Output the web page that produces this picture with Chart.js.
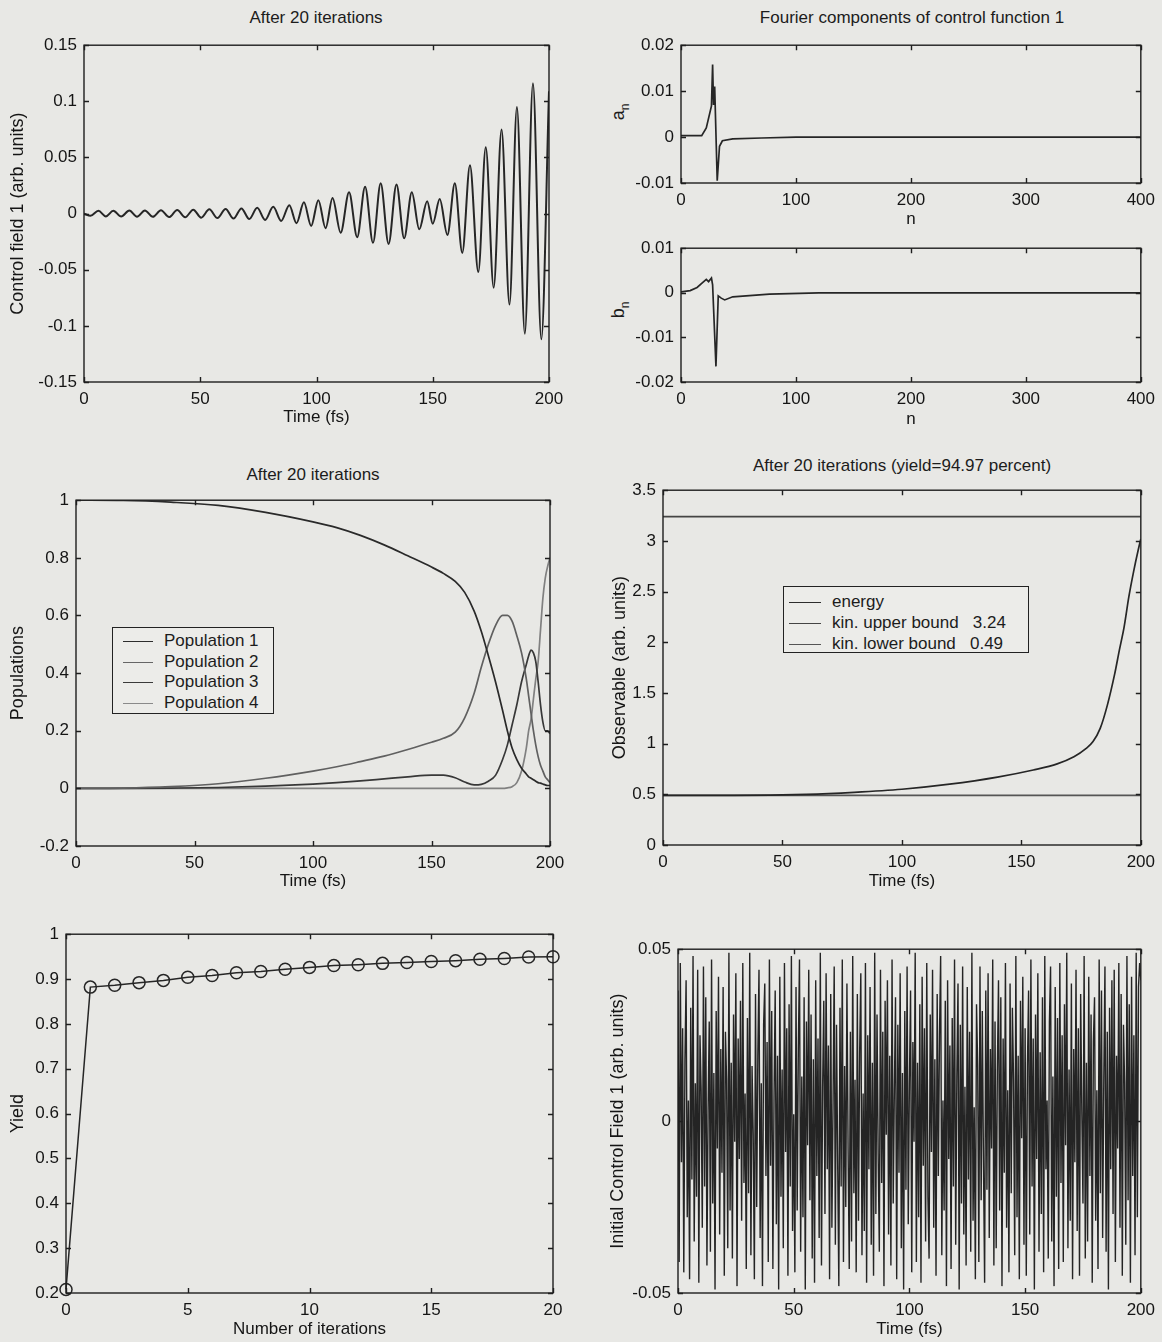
<!DOCTYPE html>
<html>
<head>
<meta charset="utf-8">
<script src="https://cdn.jsdelivr.net/npm/chart.js@4.4.1/dist/chart.umd.min.js"></script>
<style>
  body { margin: 0; background: #e8e8e5; width: 1162px; height: 1342px; position: relative; overflow: hidden;
         font-family: "Liberation Sans", Arial, sans-serif; color: #1c1c1c; }
  canvas { position: absolute; }
  .ttl { position: absolute; font-size: 17px; white-space: nowrap; transform: translate(-50%, -50%); }
  .ylab { position: absolute; font-size: 18px; white-space: nowrap; transform: translate(-50%, -50%) rotate(-90deg); }
  .ylab sub { font-size: 12px; }
  .lg { position: absolute; border: 1.5px solid #222; background: #ecece9; font-size: 17px; }
  .lg div { position: absolute; left: 0; white-space: pre; line-height: 21px; }
  .lg span { display: inline-block; height: 0; border-top: 1.6px solid #2d2d2d; vertical-align: middle; }
  #popLegend span { width: 30px; margin: 0 11px 0 10px; }
  #obsLegend span { width: 32px; margin: 0 11px 0 5px; }
</style>
</head>
<body>

<div class="ttl" style="left:316px;top:18px">After 20 iterations</div>
<div class="ttl" style="left:912px;top:18px">Fourier components of control function 1</div>
<div class="ttl" style="left:313px;top:475px">After 20 iterations</div>
<div class="ttl" style="left:902px;top:466px">After 20 iterations (yield=94.97 percent)</div>
<div class="ylab" style="left:620px;top:112px">a<sub>n</sub></div>
<div class="ylab" style="left:620px;top:310px">b<sub>n</sub></div>

<div class="lg" id="popLegend" style="left:112px;top:627px;width:160px;height:85px">
  <div style="top:2px"><span></span>Population 1</div>
  <div style="top:23px"><span style="border-color:#666"></span>Population 2</div>
  <div style="top:43px"><span style="border-color:#3a3a3a"></span>Population 3</div>
  <div style="top:64px"><span style="border-color:#8a8a8a"></span>Population 4</div>
</div>
<div class="lg" id="obsLegend" style="left:783px;top:586px;width:244px;height:65px">
  <div style="top:4px"><span></span>energy</div>
  <div style="top:25px"><span style="border-color:#444"></span>kin. upper bound   3.24</div>
  <div style="top:46px"><span style="border-color:#555"></span>kin. lower bound   0.49</div>
</div>

<script>
// control field after 20 iterations: extrema
const fieldTime = [0, 2.8, 6.2, 9.4, 12.6, 16.0, 19.5, 22.8, 26.2, 29.6, 33.1, 36.6, 40.1, 43.5, 47.0, 50.4,
  53.9, 57.4, 60.9, 64.3, 67.7, 71.1, 74.5, 77.9, 81.4, 84.8, 88.3, 91.4, 94.6, 97.7, 100.8, 103.9,
  106.9, 110.4, 114.0, 117.5, 120.9, 124.3, 127.6, 131.0, 134.4, 137.7, 141.0, 144.2, 147.6, 150.0,
  153.0, 156.3, 159.5, 162.7, 166.0, 169.6, 172.8, 176.2, 179.6, 183.0, 186.2, 189.6, 193.1, 196.7, 200];
const fieldValue = [0, -0.002, 0.0025, -0.0025, 0.0025, -0.0026, 0.0027, -0.0027, 0.0028, -0.0029, 0.003,
  -0.0031, 0.0032, -0.0033, 0.0035, -0.0036, 0.0038, -0.004, 0.0042, -0.0044, 0.0046, -0.0049, 0.0052,
  -0.0056, 0.006, -0.0065, 0.0075, -0.0085, 0.01, -0.011, 0.012, -0.013, 0.014, -0.017, 0.019, -0.021,
  0.024, -0.026, 0.027, -0.027, 0.026, -0.022, 0.019, -0.014, 0.011, -0.009, 0.013, -0.019, 0.027,
  -0.035, 0.043, -0.052, 0.059, -0.066, 0.075, -0.081, 0.095, -0.107, 0.116, -0.112, 0.109];

// Fourier components
const anN = [0, 18, 22, 26.5, 27.5, 28.3, 29.3, 31.5, 33.5, 36, 45, 70, 100, 400];
const anValue = [0.0003, 0.0003, 0.002, 0.0068, 0.0158, 0.007, 0.011, -0.0095, -0.002, -0.0008, -0.0004, -0.0002, 0, 0];
const bnN = [0, 8, 14, 18, 22, 24, 26.5, 27.5, 30.4, 32.4, 35, 38, 45, 77, 120, 400];
const bnValue = [0.0002, 0.0005, 0.0012, 0.0021, 0.003, 0.0025, 0.0033, 0.0018, -0.0165, -0.0007, -0.0012, -0.0016, -0.0009, -0.0003, 0, 0];

// populations
const popTime = [0, 20, 40, 60, 80, 100, 110, 120, 130, 140, 150, 155, 160, 164, 168, 171, 174, 177, 180,
  182, 184, 186, 188, 190, 191, 192, 193, 194, 195, 196, 197, 198, 199, 200];
const pop1 = [1, 0.999, 0.993, 0.982, 0.958, 0.925, 0.905, 0.878, 0.845, 0.807, 0.768, 0.746, 0.718, 0.68, 0.615,
  0.545, 0.46, 0.37, 0.27, 0.2, 0.14, 0.1, 0.07, 0.05, 0.04, 0.035, 0.03, 0.025, 0.02, 0.018, 0.015, 0.012, 0.01, 0.01];
const pop2 = [0, 0.001, 0.006, 0.016, 0.035, 0.06, 0.075, 0.093, 0.112, 0.135, 0.16, 0.174, 0.195, 0.245, 0.33,
  0.42, 0.5, 0.565, 0.6, 0.6, 0.58, 0.53, 0.47, 0.38, 0.32, 0.26, 0.2, 0.15, 0.11, 0.08, 0.06, 0.04, 0.03, 0.02];
const pop3 = [0, 0, 0.001, 0.003, 0.008, 0.015, 0.02, 0.026, 0.033, 0.04, 0.046, 0.046, 0.037, 0.022, 0.012,
  0.014, 0.025, 0.045, 0.1, 0.15, 0.22, 0.29, 0.37, 0.43, 0.46, 0.48, 0.47, 0.44, 0.37, 0.29, 0.23, 0.2, 0.2, 0.19];
const pop4 = [0, 0, 0, 0, 0, 0, 0, 0, 0, 0, 0, 0, 0, 0, 0, 0, 0, 0, 0, 0.002, 0.006, 0.02, 0.06, 0.14, 0.2,
  0.24, 0.31, 0.38, 0.44, 0.55, 0.66, 0.73, 0.77, 0.8];

// observable
const energyTime = [0, 30, 60, 80, 100, 120, 140, 155, 165, 172, 177, 180, 183, 186, 189, 191, 193, 195, 197, 199, 200];
const energyValue = [0.49, 0.49, 0.5, 0.52, 0.55, 0.6, 0.67, 0.74, 0.8, 0.87, 0.95, 1.02, 1.15, 1.38, 1.68,
  1.92, 2.15, 2.45, 2.7, 2.92, 3.02];
const upperBound = 3.24;
const lowerBound = 0.49;

// yield per iteration
const yieldIter = [0, 1, 2, 3, 4, 5, 6, 7, 8, 9, 10, 11, 12, 13, 14, 15, 16, 17, 18, 19, 20];
const yieldValue = [0.208, 0.882, 0.886, 0.892, 0.897, 0.904, 0.908, 0.914, 0.917, 0.922, 0.926, 0.93,
  0.932, 0.935, 0.937, 0.939, 0.941, 0.944, 0.946, 0.949, 0.9497];

// initial (noisy) control field, sampled every 0.5 fs
const noiseStep = 0.5;
const noiseField = [
  0.038, -0.041, 0.046, -0.012, 0.027, -0.044, 0.018, 0.041, -0.028, 0.006,
  -0.046, 0.033, -0.017, 0.048, -0.035, 0.011, -0.022, 0.044, -0.047, 0.025,
  0.009, -0.031, 0.045, -0.019, 0.036, -0.042, 0.003, 0.029, -0.038, 0.047,
  -0.024, 0.014, -0.049, 0.032, -0.008, 0.042, -0.033, 0.021, -0.015, 0.039,
  -0.045, 0.026, 0.012, -0.037, 0.049, -0.026, 0.017, -0.04, 0.031, -0.006,
  0.043, -0.048, 0.024, -0.011, 0.035, -0.029, 0.046, -0.018, 0.008, -0.043,
  0.03, -0.021, 0.049, -0.039, 0.016, -0.004, -0.046, 0.037, -0.025, 0.019,
  0.044, -0.034, 0.011, -0.048, 0.028, 0.04, -0.016, 0.023, -0.041, 0.047,
  -0.013, 0.032, -0.043, 0.007, 0.038, -0.03, 0.019, -0.049, 0.042, -0.022,
  0.015, -0.037, 0.046, -0.009, 0.027, -0.045, 0.034, -0.019, 0.048, -0.032,
  0.002, -0.044, 0.039, -0.026, 0.021, 0.047, -0.038, 0.013, -0.028, 0.036,
  -0.049, 0.029, -0.007, 0.044, -0.023, 0.031, -0.04, 0.018, -0.047, 0.041,
  -0.016, 0.024, -0.034, 0.049, -0.042, 0.01, 0.035, -0.027, 0.043, -0.014,
  0.022, -0.046, 0.037, -0.031, 0.005, 0.045, -0.036, 0.028, -0.012, -0.048,
  0.033, -0.019, 0.047, -0.041, 0.016, -0.025, 0.04, -0.008, -0.043, 0.026,
  -0.035, 0.048, -0.021, 0.012, -0.044, 0.037, -0.029, 0.02, 0.043, -0.039,
  0.008, -0.032, 0.046, -0.047, 0.025, -0.014, 0.039, -0.036, 0.017, -0.045,
  0.049, -0.027, 0.031, -0.01, -0.038, 0.044, -0.018, 0.026, -0.048, 0.035,
  -0.004, 0.041, -0.033, 0.019, -0.042, 0.047, -0.024, 0.009, 0.036, -0.046,
  0.028, -0.015, 0.043, -0.037, 0.014, -0.049, 0.032, -0.02, 0.045, -0.03,
  0.011, 0.038, -0.044, 0.023, -0.006, 0.049, -0.041, 0.017, -0.028, 0.034,
  -0.047, 0.042, -0.013, 0.027, -0.035, 0.046, -0.022, -0.04, 0.031, -0.009,
  0.044, -0.031, 0.018, -0.045, 0.037, -0.016, 0.025, 0.048, -0.039, 0.006,
  -0.026, 0.035, -0.048, 0.041, -0.011, 0.022, -0.043, 0.03, -0.019, 0.047,
  -0.036, 0.013, 0.04, -0.049, 0.028, -0.024, 0.045, -0.033, 0.01, -0.042,
  0.039, -0.017, 0.026, -0.038, 0.049, -0.029, 0.004, -0.046, 0.034, 0.016,
  -0.041, 0.045, -0.023, 0.032, -0.012, -0.047, 0.038, -0.02, 0.043, -0.034,
  0.021, -0.008, 0.047, -0.042, 0.029, -0.037, 0.015, 0.041, -0.026, 0.036,
  -0.048, 0.024, -0.015, 0.046, -0.031, 0.009, -0.044, 0.04, -0.021, 0.033,
  0.012, -0.039, 0.048, -0.028, 0.019, -0.046, 0.035, -0.005, 0.042, -0.036,
  0.027, -0.045, 0.016, 0.038, -0.033, 0.047, -0.019, 0.024, -0.049, 0.031,
  -0.011, 0.043, -0.038, 0.02, -0.027, 0.036, -0.044, 0.048, -0.014, 0.006,
  -0.04, 0.029, 0.045, -0.035, 0.013, -0.048, 0.039, -0.022, 0.03, -0.043,
  0.046, -0.018, 0.025, -0.041, 0.034, -0.007, 0.049, -0.037, 0.015, -0.029,
  0.04, -0.046, 0.021, -0.012, 0.044, -0.032, 0.027, -0.045, 0.037, 0.003,
  -0.024, 0.048, -0.04, 0.017, -0.035, 0.042, -0.016, 0.031, -0.047, 0.023,
  0.036, -0.029, 0.009, -0.043, 0.047, -0.021, 0.038, -0.034, 0.012, 0.045,
  -0.038, 0.026, -0.049, 0.033, -0.014, 0.041, -0.027, 0.044, -0.041, 0.019,
  -0.008, 0.046, -0.031, 0.037, -0.045, 0.028, 0.011, -0.036, 0.048, -0.023,
  0.034, -0.047, 0.042, -0.016, 0.025, -0.039, 0.049, -0.028, 0.039, 0.046,
  0.041];

// tick labels
const timeTicks = [0, 50, 100, 150, 200];
const nTicks = [0, 100, 200, 300, 400];
const iterTicks = [0, 5, 10, 15, 20];
const fieldTicks = [-0.15, -0.1, -0.05, 0, 0.05, 0.1, 0.15];
const anTicks = [-0.01, 0, 0.01, 0.02];
const bnTicks = [-0.02, -0.01, 0, 0.01];
const popTicks = [-0.2, 0, 0.2, 0.4, 0.6, 0.8, 1];
const obsTicks = [0, 0.5, 1, 1.5, 2, 2.5, 3, 3.5];
const yieldTicks = [0.2, 0.3, 0.4, 0.5, 0.6, 0.7, 0.8, 0.9, 1];
const noiseTicks = [-0.05, 0, 0.05];

Chart.defaults.font.family = '"Liberation Sans", Arial, sans-serif';
Chart.defaults.font.size = 17;
Chart.defaults.color = '#151515';

const ink = '#262626';

// MATLAB style box with inward ticks on all four sides
const boxPlugin = {
  id: 'box',
  afterDatasetsDraw(chart) {
    const { ctx, chartArea: a, scales: { x, y } } = chart;
    ctx.save();
    ctx.strokeStyle = '#1e1e1e';
    ctx.lineWidth = 1.4;
    ctx.strokeRect(a.left, a.top, a.right - a.left, a.bottom - a.top);
    ctx.beginPath();
    x.ticks.forEach(t => {
      const p = Math.round(x.getPixelForValue(t.value)) + 0.5;
      ctx.moveTo(p, a.bottom); ctx.lineTo(p, a.bottom - 5);
      ctx.moveTo(p, a.top); ctx.lineTo(p, a.top + 5);
    });
    y.ticks.forEach(t => {
      const p = Math.round(y.getPixelForValue(t.value)) + 0.5;
      ctx.moveTo(a.left, p); ctx.lineTo(a.left + 5, p);
      ctx.moveTo(a.right, p); ctx.lineTo(a.right - 5, p);
    });
    ctx.stroke();
    ctx.restore();
  }
};

function pts(xs, ys) {
  return xs.map((v, i) => ({ x: v, y: ys[i] }));
}

function line(data, color, extra) {
  return Object.assign({ data, borderColor: color, borderWidth: 1.7, pointRadius: 0, tension: 0, fill: false }, extra || {});
}

function panel(box, datasets, xs, ys) {
  const cv = document.createElement('canvas');
  const w = box.r - box.l + box.L + box.R;
  const h = box.b - box.t + box.T + box.B;
  cv.width = w; cv.height = h;
  cv.style.left = (box.l - box.L) + 'px';
  cv.style.top = (box.t - box.T) + 'px';
  document.body.appendChild(cv);
  new Chart(cv, {
    type: 'line',
    data: { datasets },
    plugins: [boxPlugin],
    options: {
      responsive: false,
      animation: false,
      layout: { padding: { left: 0, top: box.T, right: box.R, bottom: 0 } },
      plugins: { legend: { display: false }, tooltip: { enabled: false } },
      scales: {
        x: {
          type: 'linear', min: xs.min, max: xs.max,
          grid: { display: false, drawTicks: false }, border: { display: false },
          afterBuildTicks: s => { s.ticks = xs.ticks.map(v => ({ value: v })); },
          afterFit: s => { s.height = box.B; },
          ticks: { padding: 7, maxRotation: 0, autoSkip: false, callback: v => String(v) },
          title: { display: !!xs.title, text: xs.title, padding: { top: 0, bottom: 2 } }
        },
        y: {
          type: 'linear', min: ys.min, max: ys.max,
          grid: { display: false, drawTicks: false }, border: { display: false },
          afterBuildTicks: s => { s.ticks = ys.ticks.map(v => ({ value: v })); },
          afterFit: s => { s.width = box.L; },
          ticks: { padding: 7, autoSkip: false, callback: v => String(v) },
          title: { display: !!ys.title, text: ys.title, font: { size: 18 }, padding: { top: 1, bottom: 1 } }
        }
      }
    }
  });
}

// top left: control field
panel({ l: 84, t: 40, r: 549, b: 382, L: 78, T: 12, R: 25, B: 48 },
  [line(pts(fieldTime, fieldValue), ink, { cubicInterpolationMode: 'monotone', borderWidth: 2 })],
  { min: 0, max: 200, ticks: timeTicks, title: 'Time (fs)' },
  { min: -0.15, max: 0.15, ticks: fieldTicks, title: 'Control field 1 (arb. units)' });

// a_n
panel({ l: 681, t: 40, r: 1145, b: 183, L: 70, T: 12, R: 17, B: 49 },
  [line(pts(anN, anValue), ink)],
  { min: 0, max: 400, ticks: nTicks, title: 'n' },
  { min: -0.01, max: 0.02, ticks: anTicks });

// b_n
panel({ l: 681, t: 239, r: 1145, b: 382, L: 70, T: 8, R: 17, B: 50 },
  [line(pts(bnN, bnValue), ink)],
  { min: 0, max: 400, ticks: nTicks, title: 'n' },
  { min: -0.02, max: 0.01, ticks: bnTicks });

// populations
const mono = { cubicInterpolationMode: 'monotone' };
panel({ l: 76, t: 495, r: 550, b: 846, L: 70, T: 12, R: 25, B: 48 },
  [line(pts(popTime, pop1), '#2a2a2a', mono),
   line(pts(popTime, pop2), '#606060', mono),
   line(pts(popTime, pop3), '#383838', mono),
   line(pts(popTime, pop4), '#808080', mono)],
  { min: 0, max: 200, ticks: timeTicks, title: 'Time (fs)' },
  { min: -0.2, max: 1, ticks: popTicks, title: 'Populations' });

// observable
panel({ l: 663, t: 485, r: 1141, b: 845, L: 55, T: 12, R: 21, B: 49 },
  [line(pts(energyTime, energyValue), ink, mono),
   line(pts([0, 200], [upperBound, upperBound]), '#444'),
   line(pts([0, 200], [lowerBound, lowerBound]), '#555')],
  { min: 0, max: 200, ticks: timeTicks, title: 'Time (fs)' },
  { min: 0, max: 3.5, ticks: obsTicks, title: 'Observable (arb. units)' });

// yield
panel({ l: 66, t: 929, r: 553, b: 1293, L: 60, T: 12, R: 25, B: 49 },
  [line(pts(yieldIter, yieldValue), ink, {
    pointRadius: 6, pointStyle: 'circle', pointBorderColor: ink, pointBackgroundColor: 'rgba(0,0,0,0)',
    pointBorderWidth: 1.5, borderWidth: 1.5, clip: false })],
  { min: 0, max: 20, ticks: iterTicks, title: 'Number of iterations' },
  { min: 0.2, max: 1, ticks: yieldTicks, title: 'Yield' });

// initial control field
panel({ l: 678, t: 944, r: 1143, b: 1293, L: 72, T: 12, R: 19, B: 49 },
  [line(noiseField.map((v, i) => ({ x: i * noiseStep, y: v })), '#242424', { borderWidth: 1.4 })],
  { min: 0, max: 200, ticks: timeTicks, title: 'Time (fs)' },
  { min: -0.05, max: 0.05, ticks: noiseTicks, title: 'Initial Control Field 1 (arb. units)' });
</script>
</body>
</html>
